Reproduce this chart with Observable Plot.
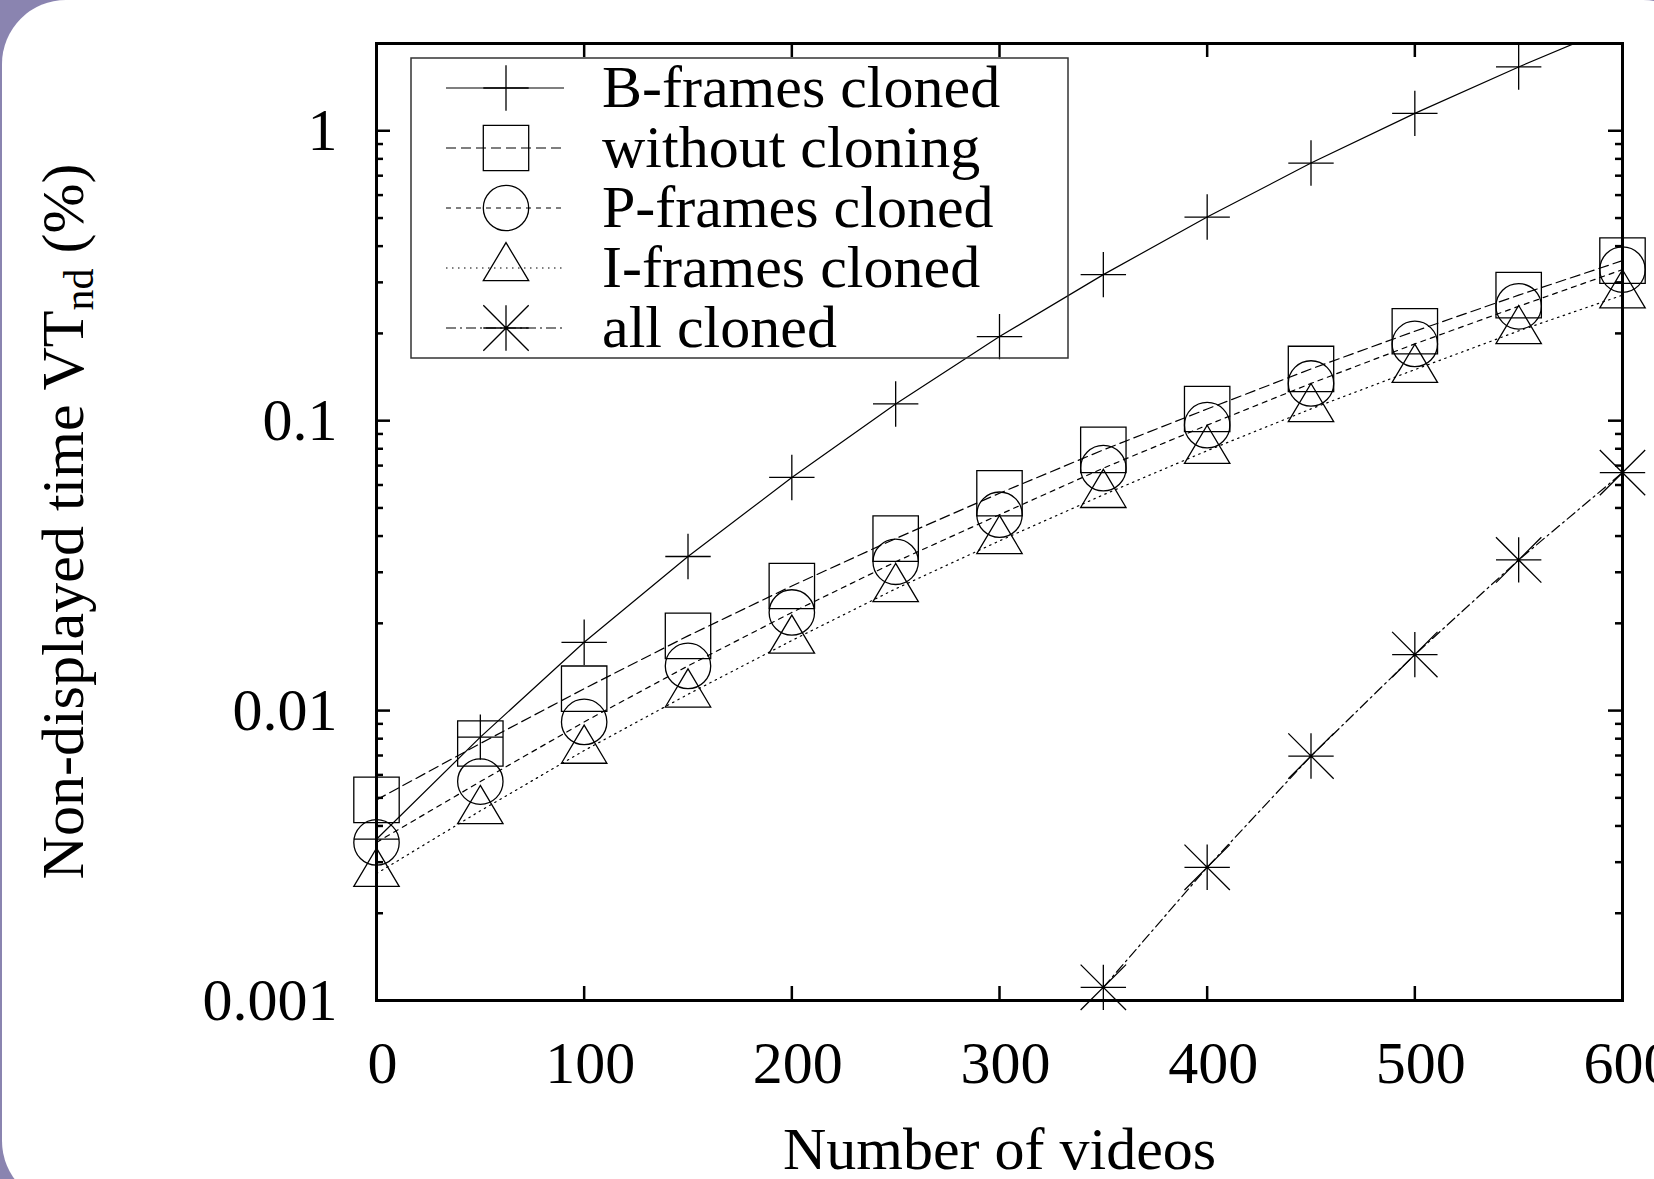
<!DOCTYPE html>
<html>
<head>
<meta charset="utf-8">
<script src="https://cdn.jsdelivr.net/npm/d3@7"></script>
<script src="https://cdn.jsdelivr.net/npm/@observablehq/plot@0.6"></script>
<style>
  html, body { margin: 0; padding: 0; background: #8a84b0; overflow: hidden; width: 1654px; height: 1179px; }
  #panel { position: absolute; left: 2px; top: 0; width: 1705px; height: 1205px; background: #fff; border-radius: 64px; }
  #chart { position: absolute; left: 0; top: 0; }
</style>
</head>
<body>
<div id="panel"></div>
<div id="chart"></div>
<script>
// ---- data ----
const videos = [0, 50, 100, 150, 200, 250, 300, 350, 400, 450, 500, 550, 600];
const bFramesCloned = [0.0036, 0.0081, 0.0172, 0.034, 0.0637, 0.1142, 0.195, 0.319, 0.504, 0.774, 1.148, 1.66, 2.35];
const withoutCloning = [0.00492, 0.0077, 0.0119, 0.0181, 0.0269, 0.0392, 0.0562, 0.0793, 0.1097, 0.1508, 0.2035, 0.271, 0.3565];
const pFramesCloned = [0.00351, 0.00569, 0.00914, 0.01426, 0.0218, 0.0326, 0.0474, 0.0686, 0.0965, 0.1344, 0.184, 0.248, 0.332];
const iFramesCloned = [0.00274, 0.00451, 0.00728, 0.01138, 0.01745, 0.0263, 0.0385, 0.0555, 0.0788, 0.1098, 0.150, 0.204, 0.271];
const videosAll = [350, 400, 450, 500, 550, 600];
const allCloned = [0.00111, 0.00288, 0.00697, 0.0156, 0.0331, 0.0662];

const seriesNames = ["B-frames cloned", "without cloning", "P-frames cloned", "I-frames cloned", "all cloned"];
const xTicks = [0, 100, 200, 300, 400, 500, 600];
const yMajorTicks = [0.001, 0.01, 0.1, 1];
const yMinorTicks = [0.002, 0.003, 0.004, 0.005, 0.006, 0.007, 0.008, 0.009,
                     0.02, 0.03, 0.04, 0.05, 0.06, 0.07, 0.08, 0.09,
                     0.2, 0.3, 0.4, 0.5, 0.6, 0.7, 0.8, 0.9];
const xLabel = "Number of videos";

// ---- gnuplot-like point symbols ----
const half = (size) => Math.sqrt(size / Math.PI);
const symPlus = { draw(c, size) { const h = half(size); c.moveTo(-h, 0); c.lineTo(h, 0); c.moveTo(0, -h); c.lineTo(0, h); } };
const symSquare = { draw(c, size) { const h = half(size); c.rect(-h, -h, 2 * h, 2 * h); } };
const symCircle = { draw(c, size) { const h = half(size); c.moveTo(h, 0); c.arc(0, 0, h, 0, 2 * Math.PI); } };
const symTriangle = { draw(c, size) { const h = half(size); c.moveTo(0, -1.12 * h); c.lineTo(h, 0.56 * h); c.lineTo(-h, 0.56 * h); c.closePath(); } };
const symStar = { draw(c, size) { const h = half(size);
  c.moveTo(-h, 0); c.lineTo(h, 0); c.moveTo(0, -h); c.lineTo(0, h);
  c.moveTo(-h, -h); c.lineTo(h, h); c.moveTo(-h, h); c.lineTo(h, -h); } };

const styles = [
  { symbol: symPlus, dash: null },
  { symbol: symSquare, dash: "10,5" },
  { symbol: symCircle, dash: "5,5" },
  { symbol: symTriangle, dash: "1.5,4.5" },
  { symbol: symStar, dash: "10,4,2,4" }
];
const valueArrays = [bFramesCloned, withoutCloning, pFramesCloned, iFramesCloned, allCloned];
const xArrays = [videos, videos, videos, videos, videosAll];
const tables = valueArrays.map((vals, i) => vals.map((v, j) => ({ x: xArrays[i][j], y: v, series: seriesNames[i] })));

const W = 1654, H = 1179;
const mL = 376, mR = 32, mT = 43, mB = 179;
const frameW = W - mL - mR, frameH = H - mT - mB;
const R = 22.7;
const font = "'Liberation Serif', 'Times New Roman', serif";

const marks = [];
tables.forEach((t, i) => {
  marks.push(Plot.line(t, { x: "x", y: "y", stroke: "black", strokeWidth: 1.2,
    strokeDasharray: styles[i].dash, clip: i === 0 ? "frame" : null }));
});
tables.forEach((t, i) => {
  marks.push(Plot.dot(t.filter(d => d.y <= 2), { x: "x", y: "y", symbol: styles[i].symbol, r: R,
    stroke: "black", fill: "none", strokeWidth: 1.3 }));
});
// inward ticks (mirrored on all sides)
marks.push(Plot.ruleX(xTicks, { x: d => d, insetTop: frameH - 14, strokeWidth: 2.5 }));
marks.push(Plot.ruleX(xTicks, { x: d => d, insetBottom: frameH - 14, strokeWidth: 2.5 }));
marks.push(Plot.ruleY(yMajorTicks, { y: d => d, insetRight: frameW - 14, strokeWidth: 2.5 }));
marks.push(Plot.ruleY(yMajorTicks, { y: d => d, insetLeft: frameW - 14, strokeWidth: 2.5 }));
marks.push(Plot.ruleY(yMinorTicks, { y: d => d, insetRight: frameW - 7, strokeWidth: 2.5 }));
marks.push(Plot.ruleY(yMinorTicks, { y: d => d, insetLeft: frameW - 7, strokeWidth: 2.5 }));
marks.push(Plot.frame({ stroke: "black", strokeWidth: 3 }));
marks.push(Plot.axisX({ ticks: xTicks, tickSize: 0, tickPadding: 40, dx: 6, label: null, tickFormat: d => String(d), fontSize: 60 }));
marks.push(Plot.axisY({ ticks: yMajorTicks, tickSize: 0, tickPadding: 39, label: null, tickFormat: d => String(d), fontSize: 60 }));
marks.push(Plot.text([xLabel], { text: d => d, frameAnchor: "bottom", lineAnchor: "bottom", dy: 168, fontSize: 60 }));

const chart = Plot.plot({
  width: W, height: H,
  marginLeft: mL, marginRight: mR, marginTop: mT, marginBottom: mB,
  style: { fontFamily: font, fontSize: "60px", background: "transparent", color: "black", overflow: "visible" },
  x: { domain: [0, 600] },
  y: { type: "log", domain: [0.001, 2] },
  marks
});
document.getElementById("chart").appendChild(chart);

// ---- y-axis title with subscript, and the legend ----
const svg = d3.select(chart);
const yt = svg.append("text")
  .attr("transform", `translate(83,${mT + frameH / 2}) rotate(-90)`)
  .attr("text-anchor", "middle")
  .attr("font-family", font).attr("font-size", 60).attr("fill", "black");
yt.append("tspan").text("Non-displayed time VT");
yt.append("tspan").attr("font-size", 42).attr("dy", 10).text("nd");
yt.append("tspan").attr("dy", -10).text(" (%)");

const lg = svg.append("g");
lg.append("rect").attr("x", 411).attr("y", 58).attr("width", 657).attr("height", 300)
  .attr("fill", "none").attr("stroke", "#333").attr("stroke-width", 1.5);
seriesNames.forEach((name, i) => {
  const cy = 88 + 60 * i;
  lg.append("line").attr("x1", 446).attr("x2", 564).attr("y1", cy).attr("y2", cy)
    .attr("stroke", "black").attr("stroke-width", 1.2)
    .attr("stroke-dasharray", styles[i].dash);
  lg.append("path").attr("transform", `translate(506,${cy})`)
    .attr("d", d3.symbol(styles[i].symbol, Math.PI * R * R)())
    .attr("fill", "none").attr("stroke", "black").attr("stroke-width", 1.3);
  lg.append("text").attr("x", 602).attr("y", cy + 19).attr("text-anchor", "start")
    .attr("font-family", font).attr("font-size", 60).attr("fill", "black").text(name);
});
</script>
</body>
</html>
